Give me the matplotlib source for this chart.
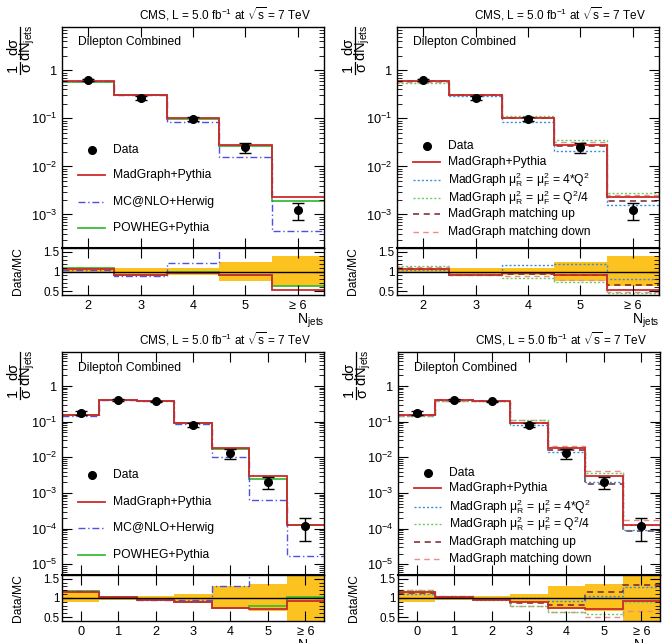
import numpy as np
import matplotlib
matplotlib.use('Agg')
import matplotlib.pyplot as plt
from matplotlib.lines import Line2D
from matplotlib.ticker import FixedLocator, FuncFormatter, LogLocator, MultipleLocator, NullFormatter

plt.rcParams['font.family'] = ['Liberation Sans', 'DejaVu Sans']
plt.rcParams['mathtext.fontset'] = 'custom'
plt.rcParams['mathtext.rm'] = 'Liberation Sans'
plt.rcParams['mathtext.it'] = 'Liberation Sans:italic'
plt.rcParams['mathtext.sf'] = 'Liberation Sans'
plt.rcParams['mathtext.default'] = 'regular'

# ----------------------------------------------------------------
# DATA  (top row: N_jets = 2..>=6, bottom row: N_jets = 0..>=6)
njets_top = [2, 3, 4, 5, 6]
njets_bot = [0, 1, 2, 3, 4, 5, 6]

data_top = [0.62, 0.27, 0.095, 0.025, 1.26e-3]
band_lo_top = [0.97, 0.90, 0.91, 0.77, 0.62]
band_hi_top = [1.07, 1.08, 1.10, 1.24, 1.40]

mg_top = [0.59, 0.30, 0.10, 0.028, 2.35e-3]
mcnlo_top = [0.60, 0.30, 0.083, 0.0155, 4.6e-4]
powheg_top = [0.58, 0.30, 0.097, 0.027, 1.95e-3]
scaleup_top = [0.60, 0.29, 0.085, 0.021, 1.6e-3]
scaledown_top = [0.55, 0.30, 0.11, 0.035, 2.8e-3]
matchup_top = [0.59, 0.30, 0.10, 0.027, 1.95e-3]
matchdown_top = [0.56, 0.30, 0.108, 0.033, 2.6e-3]

r_mg_top = [1.06, 0.91, 0.97, 0.90, 0.54]
r_mcnlo_top = [1.03, 0.89, 1.21, 1.65, 2.70]
r_powheg_top = [1.08, 0.92, 1.00, 0.92, 0.63]
r_scaleup_top = [1.03, 0.93, 1.16, 1.18, 0.80]
r_scaledown_top = [1.14, 0.90, 0.84, 0.73, 0.45]
r_matchup_top = [1.06, 0.91, 0.93, 0.92, 0.66]
r_matchdown_top = [1.12, 0.90, 0.88, 0.78, 0.48]

data_bot = [0.174, 0.41, 0.37, 0.081, 0.0129, 2.0e-3, 1.15e-4]
band_lo_bot = [0.89, 0.94, 0.94, 0.89, 0.70, 0.65, 0.38]
band_hi_bot = [1.18, 1.06, 1.06, 1.11, 1.30, 1.36, 1.68]

mg_bot = [0.149, 0.40, 0.385, 0.091, 0.0179, 3.0e-3, 1.3e-4]
mcnlo_bot = [0.146, 0.40, 0.385, 0.085, 0.0100, 6.5e-4, 1.7e-5]
powheg_bot = [0.151, 0.40, 0.385, 0.091, 0.0175, 2.5e-3, 1.27e-4]
scaleup_bot = [0.155, 0.40, 0.38, 0.080, 0.0145, 2.0e-3, 9.0e-5]
scaledown_bot = [0.145, 0.39, 0.385, 0.108, 0.020, 3.7e-3, 1.3e-4]
matchup_bot = [0.152, 0.40, 0.38, 0.094, 0.0157, 1.75e-3, 8.6e-5]
matchdown_bot = [0.145, 0.39, 0.38, 0.110, 0.0205, 4.2e-3, 1.8e-4]

r_mg_bot = [1.16, 1.03, 0.96, 0.89, 0.74, 0.70, 0.93]
r_mcnlo_bot = [1.19, 1.03, 0.96, 0.95, 1.30, 3.10, 6.80]
r_powheg_bot = [1.18, 1.03, 0.96, 0.89, 0.74, 0.80, 1.02]
r_scaleup_bot = [1.10, 1.03, 0.97, 1.00, 0.92, 1.05, 1.28]
r_scaledown_bot = [1.20, 1.05, 0.96, 0.80, 0.64, 0.57, 0.90]
r_matchup_bot = [1.14, 1.03, 0.97, 0.86, 0.82, 1.15, 1.33]
r_matchdown_bot = [1.20, 1.05, 0.97, 0.78, 0.63, 0.50, 0.66]

# ----------------------------------------------------------------
# STYLES
c_band = '#fcc320'
fs = 8.7
lab_mg = 'MadGraph+Pythia'
lab_mcnlo = 'MC@NLO+Herwig'
lab_powheg = 'POWHEG+Pythia'
lab_up = r'MadGraph $\mu^{2}_{R}$ = $\mu^{2}_{F}$ = 4*Q$^{2}$'
lab_down = r'MadGraph $\mu^{2}_{R}$ = $\mu^{2}_{F}$ = Q$^{2}$/4'
lab_mup = 'MadGraph matching up'
lab_mdown = 'MadGraph matching down'

st_mg = dict(color='#cc2a2a', ls='-', lw=1.3)
st_mcnlo = dict(color='#5050e0', ls=(0, (5, 2, 1, 2)), lw=1.0)
st_powheg = dict(color='#3cbb3c', ls='-', lw=1.3)
st_up = dict(color='#3a8fd8', ls=(0, (1.5, 1.5)), lw=1.0)
st_down = dict(color='#66cc66', ls=(0, (1.5, 1.5)), lw=1.0)
st_mup = dict(color='#7a1f2a', ls=(0, (4, 3)), lw=1.1)
st_mdown = dict(color='#f08a8a', ls=(0, (4, 3)), lw=1.0)

W, H = 668., 643.


def log_label(v, pos):
    e = int(round(np.log10(v)))
    if e == 0:
        return '1'
    return r'$10^{%d}$' % e


def ptext(fig, x, y, s, **kw):
    # text placed in figure pixels, measured from the top-left corner
    fig.text(x / W, 1 - y / H, s, **kw)


def pline(fig, x0, y0, x1, y1):
    fig.add_artist(Line2D([x0 / W, x1 / W], [1 - y0 / H, 1 - y1 / H], color='k', lw=0.9,
                          transform=fig.transFigure))


def frac_label(fig, L, T):
    # 1/sigma dsigma/dN_jets written as two stacked fractions, rotated
    kw = dict(rotation=90, ha='center', va='center', fontsize=10.5)
    ptext(fig, L - 49, T + 41, '1', **kw)
    ptext(fig, L - 35.5, T + 41, '\u03c3', **kw)
    pline(fig, L - 42.5, T + 35, L - 42.5, T + 47)
    ptext(fig, L - 49, T + 19, 'd\u03c3', **kw)
    ptext(fig, L - 34.5, T + 16, r'dN$_{jets}$', **kw)
    pline(fig, L - 42.5, T + 0, L - 42.5, T + 32)


def draw_panel(fig, L, T, B, R, njets, data, blo, bhi, mcs, ylim, leg_y):
    w = 262. / W
    ax = fig.add_axes([L / W, 1 - B / H, w, (B - T) / H])
    axr = fig.add_axes([L / W, 1 - R / H, w, (R - B) / H], sharex=ax)

    njets = np.array(njets, dtype=float)
    edges = np.append(njets - 0.5, njets[-1] + 0.5)
    data = np.array(data)
    blo = np.array(blo)
    bhi = np.array(bhi)

    # MAIN  (MadGraph drawn last so it sits on top)
    for lab, vals, rvals, st in mcs[::-1]:
        ax.stairs(vals, edges, baseline=None, **st)
    ax.errorbar(njets, data, yerr=[data * (1 - blo), data * (bhi - 1)],
                fmt='o', color='k', ms=5.5, elinewidth=1.0, capsize=4, capthick=1.0, zorder=10)
    ax.set_yscale('log')
    ax.set_ylim(*ylim)
    ax.set_xlim(edges[0], edges[-1])
    ax.yaxis.set_major_locator(LogLocator(base=10, numticks=20))
    ax.yaxis.set_minor_locator(LogLocator(base=10, subs=np.arange(2, 10), numticks=20))
    ax.yaxis.set_major_formatter(FuncFormatter(log_label))
    ax.yaxis.set_minor_formatter(NullFormatter())
    ax.tick_params(axis='both', which='both', direction='in', top=True, right=True,
                   labelbottom=False, labelsize=fs + 0.5)
    ax.tick_params(axis='both', which='major', length=7)
    ax.tick_params(axis='both', which='minor', length=3.5)
    ax.set_xticks(njets)

    ax.text(0.95, 1.02, r'CMS, L = 5.0 fb$^{-1}$ at $\sqrt{s}$ = 7 TeV', transform=ax.transAxes,
            ha='right', va='bottom', fontsize=fs - 0.2)
    ax.text(0.06, 0.93, 'Dilepton Combined', transform=ax.transAxes, ha='left', va='center',
            fontsize=fs)
    frac_label(fig, L, T)

    # LEGEND (rows placed by hand, like the ROOT one)
    ax.plot([0.115], [leg_y[0]], 'o', color='k', ms=5.5, transform=ax.transAxes)
    ax.text(0.195, leg_y[0], 'Data', transform=ax.transAxes, ha='left', va='center', fontsize=fs)
    for (lab, vals, rvals, st), yy in zip(mcs, leg_y[1:]):
        ax.plot([0.062, 0.166], [yy, yy], transform=ax.transAxes, **st)
        ax.text(0.195, yy, lab, transform=ax.transAxes, ha='left', va='center', fontsize=fs)

    # RATIO
    axr.stairs(bhi, edges, baseline=blo, fill=True, color=c_band, lw=0)
    axr.axhline(1.0, color='k', lw=1.0)
    for lab, vals, rvals, st in mcs[::-1]:
        axr.stairs(rvals, edges, baseline=None, **st)
    axr.set_ylim(0.4, 1.6)
    axr.yaxis.set_major_locator(FixedLocator([0.5, 1.0, 1.5]))
    axr.yaxis.set_minor_locator(MultipleLocator(0.1))
    axr.yaxis.set_major_formatter(FuncFormatter(lambda v, p: '%g' % v))
    axr.tick_params(axis='both', which='both', direction='in', top=True, right=True)
    axr.tick_params(axis='y', labelsize=fs - 0.3, pad=2)
    axr.tick_params(axis='x', labelsize=fs + 0.5)
    axr.tick_params(axis='both', which='major', length=7)
    axr.tick_params(axis='y', which='minor', length=3.5)
    axr.tick_params(axis='x', which='minor', bottom=False, top=False)
    axr.set_xticks(njets)
    axr.set_xticklabels([str(int(n)) for n in njets[:-1]] + ['\u2265 6'])
    axr.set_ylabel('Data/MC', fontsize=fs)
    axr.yaxis.set_label_coords(-0.145, 0.5)
    axr.set_xlabel(r'N$_{jets}$', loc='right', fontsize=fs + 1.5, labelpad=0)
    for sp in list(ax.spines.values()) + list(axr.spines.values()):
        sp.set_linewidth(1.0)
    ax.spines['bottom'].set_linewidth(1.5)
    return ax, axr


# ----------------------------------------------------------------
fig = plt.figure(figsize=(6.68, 6.43), dpi=100)

mcs_tl = [(lab_mg, mg_top, r_mg_top, st_mg),
          (lab_mcnlo, mcnlo_top, r_mcnlo_top, st_mcnlo),
          (lab_powheg, powheg_top, r_powheg_top, st_powheg)]
mcs_tr = [(lab_mg, mg_top, r_mg_top, st_mg),
          (lab_up, scaleup_top, r_scaleup_top, st_up),
          (lab_down, scaledown_top, r_scaledown_top, st_down),
          (lab_mup, matchup_top, r_matchup_top, st_mup),
          (lab_mdown, matchdown_top, r_matchdown_top, st_mdown)]
mcs_bl = [(lab_mg, mg_bot, r_mg_bot, st_mg),
          (lab_mcnlo, mcnlo_bot, r_mcnlo_bot, st_mcnlo),
          (lab_powheg, powheg_bot, r_powheg_bot, st_powheg)]
mcs_br = [(lab_mg, mg_bot, r_mg_bot, st_mg),
          (lab_up, scaleup_bot, r_scaleup_bot, st_up),
          (lab_down, scaledown_bot, r_scaledown_bot, st_down),
          (lab_mup, matchup_bot, r_matchup_bot, st_mup),
          (lab_mdown, matchdown_bot, r_matchdown_bot, st_mdown)]

# legend row heights (axes fraction)
leg_few_top = [0.443, 0.330, 0.208, 0.090]
leg_many_top = [0.462, 0.389, 0.308, 0.226, 0.154, 0.072]
leg_few_bot = [0.448, 0.327, 0.211, 0.090]
leg_many_bot = [0.457, 0.390, 0.305, 0.229, 0.148, 0.072]

# panel frames in pixels: left, main top, main bottom, ratio bottom
draw_panel(fig, 62, 27, 248, 295, njets_top, data_top, band_lo_top, band_hi_top,
           mcs_tl, (2e-4, 8.), leg_few_top)
draw_panel(fig, 397, 27, 248, 295, njets_top, data_top, band_lo_top, band_hi_top,
           mcs_tr, (2e-4, 8.), leg_many_top)
draw_panel(fig, 62, 352, 575, 621, njets_bot, data_bot, band_lo_bot, band_hi_bot,
           mcs_bl, (5e-6, 9.), leg_few_bot)
draw_panel(fig, 398, 352, 575, 621, njets_bot, data_bot, band_lo_bot, band_hi_bot,
           mcs_br, (5e-6, 9.), leg_many_bot)

fig.savefig('out.png', dpi=100)
